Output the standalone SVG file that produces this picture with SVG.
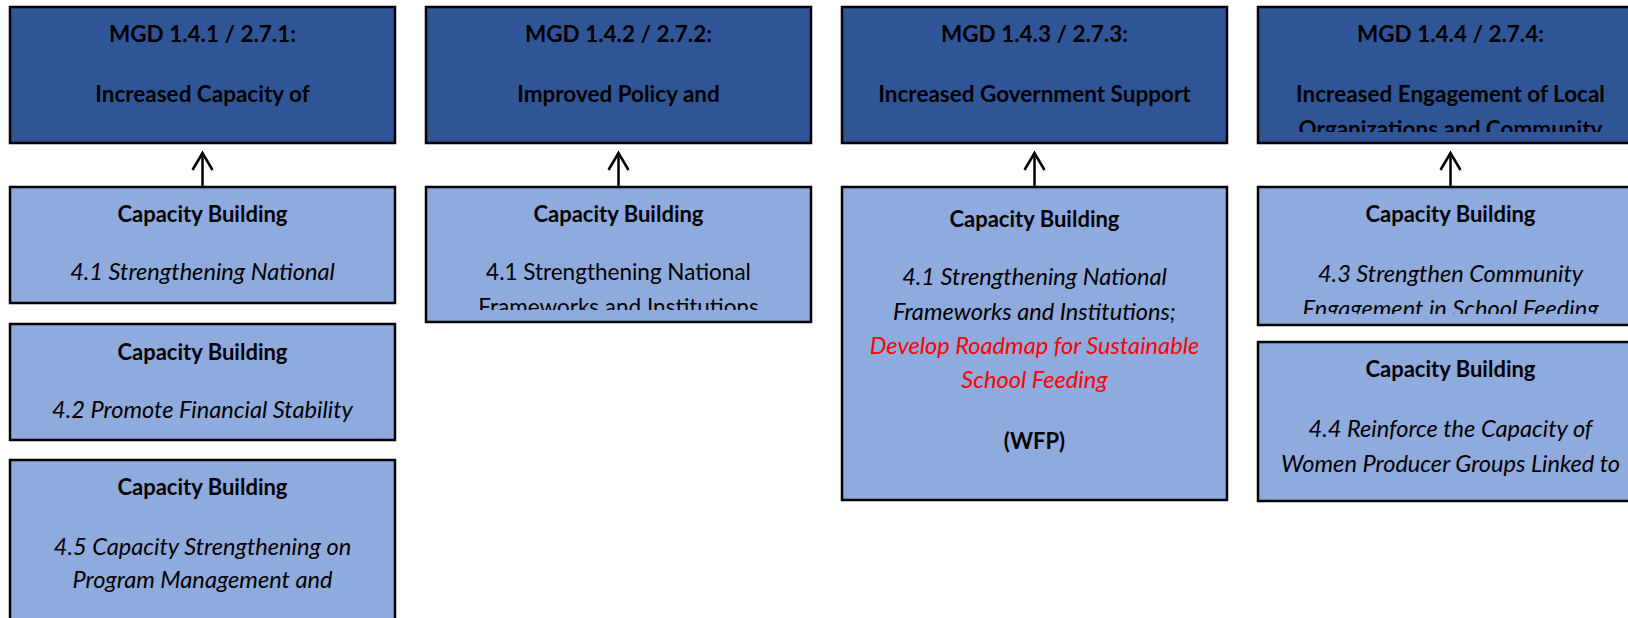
<svg xmlns="http://www.w3.org/2000/svg" width="1628" height="618" viewBox="0 0 1628 618">
<defs>
<style>
.top{fill:#2F5597;stroke:#000;stroke-width:2.5}
.low{fill:#8FAADC;stroke:#000;stroke-width:2.5}
text{font-family:Lato,"Liberation Sans",sans-serif;text-anchor:middle;fill:#000}
.h{font-weight:bold;font-size:22.5px}
.b{font-weight:bold;font-size:22px}
.i{font-style:italic;font-size:23.6px}
.r{font-size:22.5px}
.red{fill:#FF0000}
.conn{stroke:#000;stroke-width:2.5;fill:none}
</style>
<marker id="arr" viewBox="0 0 20 20" refX="18" refY="10" markerWidth="20" markerHeight="20" markerUnits="userSpaceOnUse" orient="auto" overflow="visible">
<path d="M1,0 L18,10 L1,20" fill="none" stroke="#000" stroke-width="2.5"/>
</marker>
<clipPath id="c4t"><rect x="1258" y="7" width="385" height="125"/></clipPath>
<clipPath id="c2a"><rect x="426" y="187" width="385" height="123"/></clipPath>
<clipPath id="c4a"><rect x="1258" y="187" width="385" height="127"/></clipPath>
</defs>
<rect x="0" y="0" width="1628" height="618" fill="#FFFFFF"/>

<g id="mgd1">
<rect class="top" x="10" y="7" width="385" height="136"/>
<text class="h" x="202.5" y="42">MGD 1.4.1 / 2.7.1:</text>
<text class="h" x="202.5" y="102">Increased Capacity of</text>
</g>
<g id="mgd2">
<rect class="top" x="426" y="7" width="385" height="136"/>
<text class="h" x="618.5" y="42">MGD 1.4.2 / 2.7.2:</text>
<text class="h" x="618.5" y="102">Improved Policy and</text>
</g>
<g id="mgd3">
<rect class="top" x="842" y="7" width="385" height="136"/>
<text class="h" x="1034.5" y="42">MGD 1.4.3 / 2.7.3:</text>
<text class="h" x="1034.5" y="102">Increased Government Support</text>
</g>
<g id="mgd4">
<rect class="top" x="1258" y="7" width="385" height="136"/>
<text class="h" x="1450.5" y="42">MGD 1.4.4 / 2.7.4:</text>
<g clip-path="url(#c4t)">
<text class="h" x="1450.5" y="102">Increased Engagement of Local</text>
<text class="h" x="1450.5" y="137">Organizations and Community</text>
</g>
</g>

<g id="cb41a">
<rect class="low" x="10" y="187" width="385" height="116"/>
<text class="b" x="202.5" y="222">Capacity Building</text>
<text class="i" x="202.5" y="280">4.1 Strengthening National</text>
</g>
<g id="cb42">
<rect class="low" x="10" y="324" width="385" height="116"/>
<text class="b" x="202.5" y="360">Capacity Building</text>
<text class="i" x="202.5" y="418">4.2 Promote Financial Stability</text>
</g>
<g id="cb45">
<rect class="low" x="10" y="460" width="385" height="180"/>
<text class="b" x="202.5" y="495">Capacity Building</text>
<text class="i" x="202.5" y="555">4.5 Capacity Strengthening on</text>
<text class="i" x="202.5" y="588">Program Management and</text>
</g>
<g id="cb41b">
<rect class="low" x="426" y="187" width="385" height="135"/>
<text class="b" x="618.5" y="222">Capacity Building</text>
<g clip-path="url(#c2a)">
<text class="r" x="618.5" y="280">4.1 Strengthening National</text>
<text class="r" x="618.5" y="315">Frameworks and Institutions</text>
</g>
</g>
<g id="cb41c">
<rect class="low" x="842" y="187" width="385" height="313"/>
<text class="b" x="1034.5" y="227">Capacity Building</text>
<text class="i" x="1034.5" y="285">4.1 Strengthening National</text>
<text class="i" x="1034.5" y="320">Frameworks and Institutions;</text>
<text class="i red" x="1034.5" y="354">Develop Roadmap for Sustainable</text>
<text class="i red" x="1034.5" y="388">School Feeding</text>
<text class="b" x="1034.5" y="449">(WFP)</text>
</g>
<g id="cb43">
<rect class="low" x="1258" y="187" width="385" height="138"/>
<text class="b" x="1450.5" y="222">Capacity Building</text>
<g clip-path="url(#c4a)">
<text class="i" x="1450.5" y="282">4.3 Strengthen Community</text>
<text class="i" x="1450.5" y="317">Engagement in School Feeding</text>
</g>
</g>
<g id="cb44">
<rect class="low" x="1258" y="342" width="385" height="159"/>
<text class="b" x="1450.5" y="377">Capacity Building</text>
<text class="i" x="1450.5" y="437">4.4 Reinforce the Capacity of</text>
<text class="i" x="1450.5" y="472">Women Producer Groups Linked to</text>
</g>

<g id="connectors">
<line class="conn" x1="202.5" y1="187" x2="202.5" y2="153" marker-end="url(#arr)"/>
<line class="conn" x1="618.5" y1="187" x2="618.5" y2="153" marker-end="url(#arr)"/>
<line class="conn" x1="1034.5" y1="187" x2="1034.5" y2="153" marker-end="url(#arr)"/>
<line class="conn" x1="1450.5" y1="187" x2="1450.5" y2="153" marker-end="url(#arr)"/>
</g>
</svg>
